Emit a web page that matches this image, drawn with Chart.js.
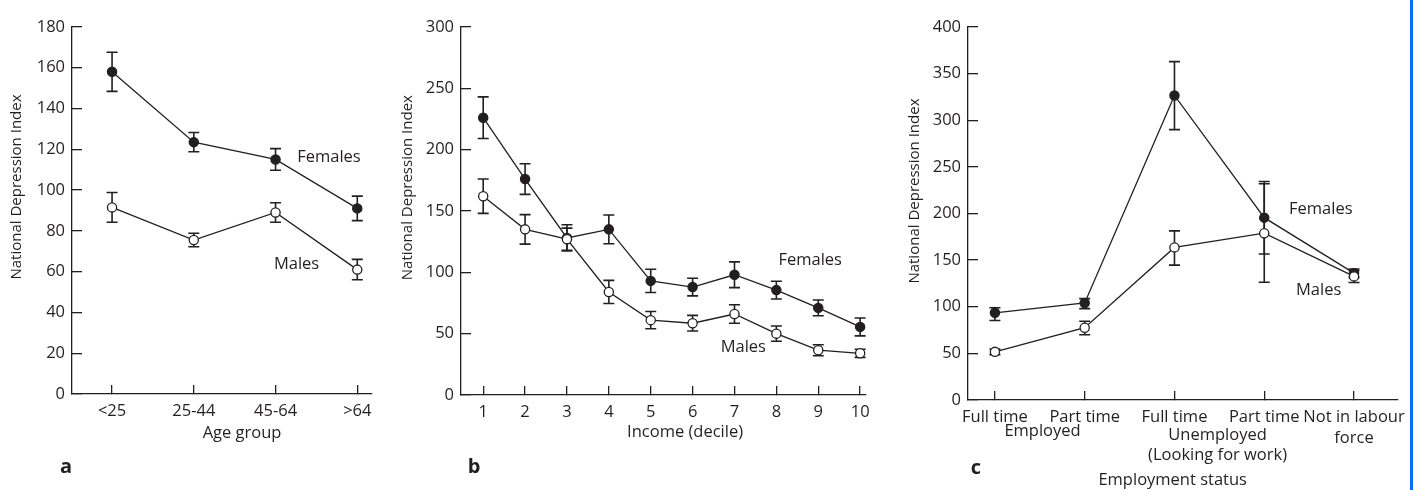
<!DOCTYPE html>
<html>
<head>
<meta charset="utf-8">
<script src="https://cdn.jsdelivr.net/npm/chart.js@4.4.1/dist/chart.umd.min.js"></script>
<style>
    body { margin: 0; background: #fff; }
    #wrap { position: relative; width: 1414px; height: 490px; overflow: hidden; background: #fff; }
    #wrap canvas { position: absolute; top: 0; }
    #edge { position: absolute; left: 1410px; top: 0; width: 3px; height: 490px; background: #0a6cf7; }
</style>
</head>
<body>
<div id="wrap">
    <canvas id="ageChart" width="470" height="490" style="left:0"></canvas>
    <canvas id="incomeChart" width="500" height="490" style="left:390px"></canvas>
    <canvas id="employChart" width="515" height="490" style="left:895px"></canvas>
    <div id="edge"></div>
</div>
<script>
// panel a - age
const ageGroups = ['<25', '25-44', '45-64', '>64'];
const ageFemales = [158, 123.5, 115, 91];
const ageFemalesErr = [9.6, 4.7, 5.3, 6];
const ageMales = [91.5, 75.5, 89, 61];
const ageMalesErr = [7.3, 3.3, 4.8, 5];

// panel b - income
const incomeDeciles = [1, 2, 3, 4, 5, 6, 7, 8, 9, 10];
const incomeFemales = [226, 176, 128, 135, 93, 88, 98, 85.5, 71, 55.5];
const incomeFemalesErr = [17, 12.5, 10.7, 11.7, 9.5, 7.2, 10.5, 7.2, 6.4, 7.3];
const incomeMales = [162, 135, 127, 84, 61, 58.5, 66, 50, 36.5, 34];
const incomeMalesErr = [14, 12, 9, 9.4, 7, 6.4, 7.5, 6.2, 4.5, 3.3];

// panel c - employment status
const employmentStatus = ['Full time', 'Part time', 'Full time', 'Part time', ['Not in labour', 'force']];
const employFemales = [93.5, 104, 326.5, 195.5, 136];
const employFemalesUp = [5.4, 4.7, 36.3, 38.7, 4.5];
const employFemalesDown = [8.2, 6, 36.6, 39, 4.5];
const employMales = [51.6, 77.5, 163.6, 178.8, 132.5];
const employMalesUp = [3, 7, 17.7, 53, 6.3];
const employMalesDown = [3, 7.5, 19, 52.6, 6.6];

const ink = '#231f20';
const family = "'Open Sans', 'Noto Sans', sans-serif";
Chart.defaults.font.family = family;
Chart.defaults.color = ink;

// vertical error bars with caps, drawn under the lines
const errorBars = {
    id: 'errorBars',
    beforeDatasetsDraw(chart) {
        const { ctx, scales: { y } } = chart;
        ctx.save();
        ctx.strokeStyle = ink;
        ctx.lineWidth = 1.6;
        chart.data.datasets.forEach((ds, di) => {
            if (!ds.errUp) return;
            const meta = chart.getDatasetMeta(di);
            ds.data.forEach((p, i) => {
                const px = meta.data[i].x;
                const top = y.getPixelForValue(p.y + ds.errUp[i]);
                const bot = y.getPixelForValue(p.y - ds.errDown[i]);
                ctx.beginPath();
                ctx.moveTo(px, top); ctx.lineTo(px, bot);
                ctx.moveTo(px - 5.5, top); ctx.lineTo(px + 5.5, top);
                ctx.moveTo(px - 5.5, bot); ctx.lineTo(px + 5.5, bot);
                ctx.stroke();
            });
        });
        ctx.restore();
    }
};

// free text: series names, axis titles, panel letters
const notes = {
    id: 'notes',
    afterDraw(chart, args, opts) {
        const { ctx, chartArea, scales: { x, y } } = chart;
        (opts.items || []).forEach(n => {
            const px = n.px !== undefined ? n.px : x.getPixelForValue(n.x);
            let py;
            if (n.py !== undefined) py = n.py;
            else if (n.dy !== undefined) py = chartArea.bottom + n.dy;
            else py = y.getPixelForValue(n.y);
            ctx.save();
            ctx.fillStyle = ink;
            ctx.font = (n.bold ? 'bold ' : '') + (n.size || 16.5) + 'px ' + family;
            ctx.textAlign = n.align || 'center';
            ctx.textBaseline = 'middle';
            ctx.translate(px, py);
            if (n.rotate) ctx.rotate(-Math.PI / 2);
            ctx.fillText(n.text, 0, 0);
            ctx.restore();
        });
    }
};

function series(xs, ys) {
    return ys.map((v, i) => ({ x: xs[i], y: v }));
}

function lineSet(label, xs, ys, up, down, filled) {
    return {
        label: label,
        data: series(xs, ys),
        errUp: up,
        errDown: down || up,
        borderColor: ink,
        borderWidth: 1.3,
        pointRadius: 4.6,
        pointBorderWidth: 1.3,
        pointBorderColor: ink,
        pointBackgroundColor: filled ? ink : '#fff',
        order: filled ? 1 : 0
    };
}

function makeChart(id, o) {
    return new Chart(document.getElementById(id), {
        type: 'line',
        data: { datasets: o.datasets },
        options: {
            responsive: false,
            animation: false,
            layout: { padding: o.padding },
            plugins: {
                legend: { display: false },
                tooltip: { enabled: false },
                notes: { items: o.notes }
            },
            scales: {
                x: {
                    type: 'linear',
                    min: o.xMin,
                    max: o.xMax,
                    afterBuildTicks: s => { s.ticks = o.xTicks.map(v => ({ value: v })); },
                    afterFit: s => { s.height = o.xHeight; s.paddingLeft = 0; s.paddingRight = 0; },
                    ticks: {
                        autoSkip: false, maxRotation: 0, padding: 16, color: ink,
                        font: { size: 16.5, lineHeight: 1.28 },
                        callback: (v, i) => o.xLabels[i]
                    },
                    grid: { drawOnChartArea: false, tickLength: -9, color: ink, lineWidth: 1.3 },
                    border: { color: ink, width: 1.3 }
                },
                y: {
                    min: 0,
                    max: o.yMax,
                    afterFit: s => { s.width = o.yWidth; },
                    ticks: { stepSize: o.yStep, padding: 17, color: ink, font: { size: 16.5 } },
                    grid: { drawOnChartArea: false, tickLength: -10, color: ink, lineWidth: 1.3 },
                    border: { color: ink, width: 1.3 }
                }
            }
        },
        plugins: [errorBars, notes]
    });
}

const ageIdx = ageGroups.map((_, i) => i);
makeChart('ageChart', {
    datasets: [
        lineSet('Females', ageIdx, ageFemales, ageFemalesErr, null, true),
        lineSet('Males', ageIdx, ageMales, ageMalesErr, null, false)
    ],
    padding: { left: 0, top: 19, right: 98, bottom: 0 },
    xMin: -0.49, xMax: 3.18, xTicks: ageIdx, xLabels: ageGroups, xHeight: 96,
    yMax: 180, yStep: 20, yWidth: 72,
    notes: [
        { text: 'Females', x: 2.265, y: 116, align: 'left' },
        { text: 'Males', x: 1.98, y: 63.5, align: 'left' },
        { text: 'Age group', x: 1.59, dy: 39 },
        { text: 'National Depression Index', px: 17, y: 101.5, rotate: true, size: 15 },
        { text: 'a', px: 66, py: 467, bold: true, size: 20 }
    ]
});

makeChart('incomeChart', {
    datasets: [
        lineSet('Females', incomeDeciles, incomeFemales, incomeFemalesErr, null, true),
        lineSet('Males', incomeDeciles, incomeMales, incomeMalesErr, null, false)
    ],
    padding: { left: 0, top: 21, right: 24, bottom: 0 },
    xMin: 0.47, xMax: 10.14, xTicks: incomeDeciles, xLabels: incomeDeciles.map(String), xHeight: 95,
    yMax: 300, yStep: 50, yWidth: 71,
    notes: [
        { text: 'Females', x: 8.05, y: 109.5, align: 'left' },
        { text: 'Males', x: 6.67, y: 38.7, align: 'left' },
        { text: 'Income (decile)', x: 5.82, dy: 37 },
        { text: 'National Depression Index', px: 18, y: 169, rotate: true, size: 15 },
        { text: 'b', px: 84, py: 467, bold: true, size: 20 }
    ]
});

const employIdx = employmentStatus.map((_, i) => i);
makeChart('employChart', {
    datasets: [
        lineSet('Females', employIdx, employFemales, employFemalesUp, employFemalesDown, true),
        lineSet('Males', employIdx, employMales, employMalesUp, employMalesDown, false)
    ],
    padding: { left: 0, top: 25, right: 12, bottom: 0 },
    xMin: -0.3, xMax: 4.49, xTicks: employIdx, xLabels: employmentStatus, xHeight: 90,
    yMax: 400, yStep: 50, yWidth: 73,
    notes: [
        { text: 'Females', x: 3.276, y: 204.4, align: 'left' },
        { text: 'Males', x: 3.354, y: 117.3, align: 'left' },
        { text: 'Employed', x: 0.53, dy: 31.7 },
        { text: 'Unemployed', x: 2.48, dy: 35 },
        { text: '(Looking for work)', x: 2.48, dy: 55 },
        { text: 'Employment status', x: 1.98, dy: 80 },
        { text: 'National Depression Index', px: 20, y: 224, rotate: true, size: 15 },
        { text: 'c', px: 81, py: 468, bold: true, size: 20 }
    ]
});
</script>
</body>
</html>
